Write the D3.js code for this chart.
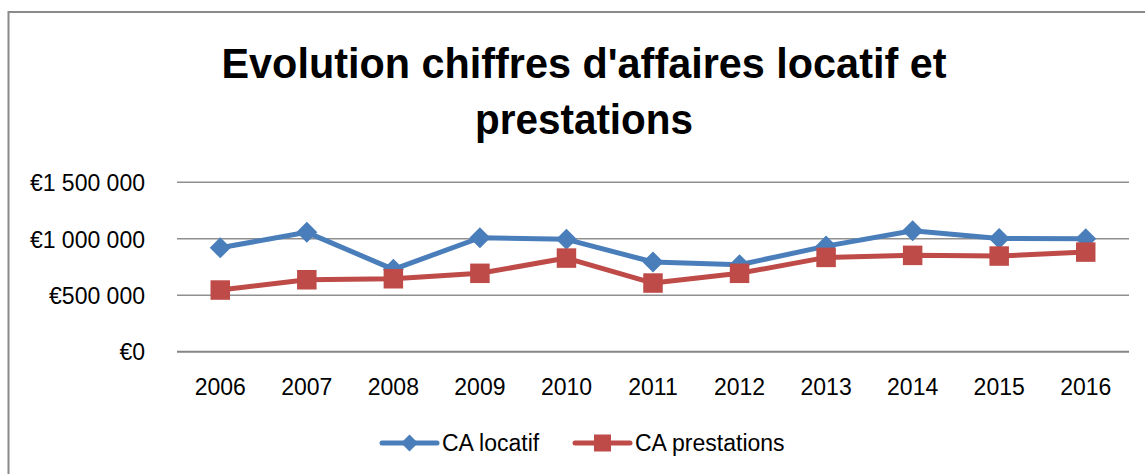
<!DOCTYPE html>
<html>
<head>
<meta charset="utf-8">
<script src="https://cdn.jsdelivr.net/npm/d3@7"></script>
<style>
  html, body { margin: 0; padding: 0; background: #ffffff; }
  svg { display: block; }
</style>
</head>
<body>
<svg id="chart" width="1145" height="474"></svg>
<script>
// ---- data ----
const years = ["2006","2007","2008","2009","2010","2011","2012","2013","2014","2015","2016"];
const caLocatif = [920000, 1057000, 729000, 1009000, 995000, 794000, 770000, 935000, 1071000, 1003000, 1000000];
const caPrestations = [546000, 637000, 646000, 694000, 829000, 608000, 694000, 835000, 853000, 847000, 882000];
const yTicks = [0, 500000, 1000000, 1500000];
const yTickLabels = ["€0", "€500 000", "€1 000 000", "€1 500 000"];
const seriesNames = ["CA locatif", "CA prestations"];
const titleLines = ["Evolution chiffres d'affaires locatif et", "prestations"];

// ---- layout ----
const W = 1145, H = 474;
const plot = { left: 177, right: 1129, top: 182.3, bottom: 351.7 };
const FONT = "'Liberation Sans', Arial, sans-serif";
const colors = ["#4A7EBB", "#BE4B48"];

const svg = d3.select("#chart");
svg.append("rect").attr("width", W).attr("height", H).attr("fill", "#fff");

// chart border (top & left visible)
svg.append("rect")
  .attr("x", 8.5).attr("y", 12).attr("width", W + 20).attr("height", H + 20)
  .attr("fill", "none").attr("stroke", "#8a8a8a").attr("stroke-width", 2);

// title
const titleFont = "'Liberation Sans Narrow', 'Liberation Sans', Arial, sans-serif";
const titleY = [78, 134];
const titleW = [725, 218];
titleLines.forEach((t, i) => {
  svg.append("text")
    .attr("x", 584).attr("y", titleY[i])
    .attr("text-anchor", "middle")
    .attr("font-family", titleFont)
    .attr("font-weight", "bold")
    .attr("font-size", 43)
    .attr("textLength", titleW[i])
    .attr("lengthAdjust", "spacingAndGlyphs")
    .attr("fill", "#000")
    .text(t);
});

// scales
const x = d3.scaleBand().domain(years).range([plot.left, plot.right]).padding(0);
const cx = d => x(d) + x.bandwidth() / 2;
const y = d3.scaleLinear().domain([0, 1500000]).range([plot.bottom, plot.top]);

// gridlines
svg.append("g").selectAll("line").data(yTicks).join("line")
  .attr("x1", plot.left).attr("x2", plot.right)
  .attr("y1", d => y(d)).attr("y2", d => y(d))
  .attr("stroke", d => d === 0 ? "#858585" : "#8f8f8f")
  .attr("stroke-width", d => d === 0 ? 2 : 1.5);

// y axis labels
const yAxis = d3.axisLeft(y).tickValues(yTicks)
  .tickFormat((d, i) => yTickLabels[i]).tickSize(0).tickPadding(0);
const gy = svg.append("g").attr("transform", "translate(145,0)").call(yAxis);
gy.select(".domain").remove();
gy.selectAll("text").attr("font-family", FONT).attr("font-size", 23).attr("fill", "#000")
  .attr("dy", "0.36em");

// x axis labels
const xAxis = d3.axisBottom(x).tickSize(0).tickPadding(0);
const gx = svg.append("g").attr("transform", "translate(0,395)").call(xAxis);
gx.select(".domain").remove();
gx.selectAll("text").attr("font-family", FONT).attr("font-size", 23).attr("fill", "#000")
  .attr("dy", 0);

function diamondPath(w, h) {
  return `M0,${-h/2}L${w/2},0L0,${h/2}L${-w/2},0Z`;
}
function squarePath(s) {
  return `M${-s/2},${-s/2}H${s/2}V${s/2}H${-s/2}Z`;
}

// series
const series = [
  { name: seriesNames[0], values: caLocatif, color: colors[0], marker: diamondPath(21, 21), legendMarker: diamondPath(17, 17) },
  { name: seriesNames[1], values: caPrestations, color: colors[1], marker: squarePath(19.5), legendMarker: squarePath(17) }
];
const line = d3.line().x((d, i) => cx(years[i])).y(d => y(d));

series.forEach(s => {
  const g = svg.append("g");
  g.append("path").datum(s.values)
    .attr("d", line).attr("fill", "none")
    .attr("stroke", s.color).attr("stroke-width", 5)
    .attr("stroke-linejoin", "round").attr("stroke-linecap", "round");
  g.selectAll("path.m").data(s.values).join("path").attr("class", "m")
    .attr("d", s.marker)
    .attr("transform", (d, i) => `translate(${cx(years[i])},${y(d)})`)
    .attr("fill", s.color);
});

// legend
const legend = [
  { x0: 382, textX: 442 },
  { x0: 575, textX: 635 }
];
series.forEach((s, i) => {
  const L = legend[i];
  const ly = 443;
  const g = svg.append("g");
  g.append("line").attr("x1", L.x0).attr("x2", L.x0 + 55).attr("y1", ly).attr("y2", ly)
    .attr("stroke", s.color).attr("stroke-width", 5).attr("stroke-linecap", "round");
  g.append("path")
    .attr("d", s.legendMarker)
    .attr("transform", `translate(${L.x0 + 27.5},${ly})`)
    .attr("fill", s.color);
  g.append("text").attr("x", L.textX).attr("y", ly).attr("dy", "0.36em")
    .attr("font-family", FONT).attr("font-size", 23).attr("fill", "#000")
    .text(s.name);
});
</script>
</body>
</html>
